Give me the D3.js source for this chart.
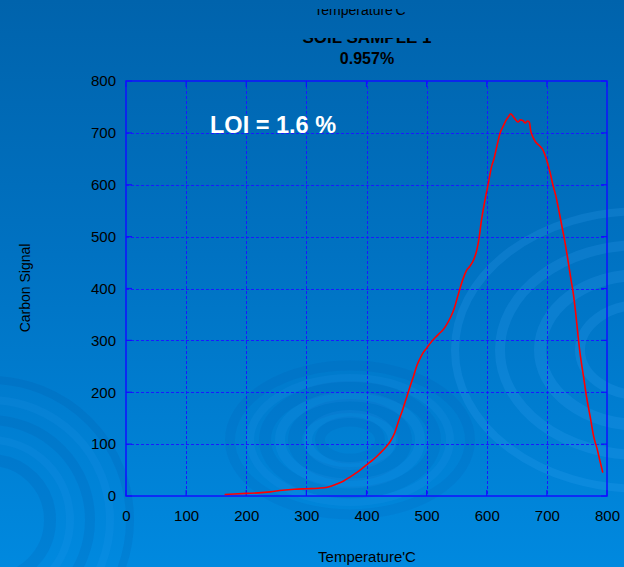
<!DOCTYPE html>
<html>
<head>
<meta charset="utf-8">
<script src="https://cdn.jsdelivr.net/npm/d3@7"></script>
<style>
  html, body { margin: 0; padding: 0; background: #0070c0; }
  svg { display: block; }
  text { font-family: "Liberation Sans", Arial, sans-serif; }
</style>
</head>
<body>
<svg id="chart" width="624" height="567"></svg>
<script>
// Carbon signal vs temperature (soil sample 1)
const temperature = [164,180,200,220,240,260,280,300,320,335,350,362,373,386,400,412,422,432,440,447,453,460,467,473,478,484,489,494,500,507,514,520,527,533,540,546,551,556,561,566,572,578,583,587,591,597,603,608,612,617,622,627,632,636,640,643,647,652,656,660,664,668,671,673,676,681,687,693,699,705,710,715,720,725,730,735,740,744,748,752,756,761,766,772,778,784,788,793];
const carbonSignal = [3,4,5,6,8,11,13,14,15,17,23,29,37,47,60,71,82,94,106,122,143,166,191,213,230,252,265,276,285,296,305,312,320,330,345,362,382,402,420,434,443,455,472,495,530,570,605,635,650,675,699,712,724,731,737,733,727,721,725,724,719,723,720,705,694,683,676,668,650,625,600,578,550,520,490,455,418,390,352,307,268,230,191,153,114,89,69,45];
const xTicks = [0,100,200,300,400,500,600,700,800];
const yTicks = [0,100,200,300,400,500,600,700,800];
const topAxisTitle = "Temperature'C";
const sampleTitle = "SOIL SAMPLE 1";
const resultTitle = "0.957%";
const loiLabel = "LOI = 1.6 %";
const xTitle = "Temperature'C";
const yTitle = "Carbon Signal";

const W = 624, H = 567;
const margin = {left: 126, right: 17, top: 81, bottom: 71};
const svg = d3.select("#chart");

// background gradient
const defs = svg.append("defs");
const bg = defs.append("linearGradient").attr("id", "bg").attr("x1", 0).attr("y1", 0).attr("x2", 0).attr("y2", 1);
bg.append("stop").attr("offset", "0%").attr("stop-color", "#0063ac");
bg.append("stop").attr("offset", "45%").attr("stop-color", "#0072c2");
bg.append("stop").attr("offset", "100%").attr("stop-color", "#0089df");
svg.append("rect").attr("width", W).attr("height", H).attr("fill", "url(#bg)");

// decorative swirls
const swirl = svg.append("g").attr("fill", "none");
function rings(cx, cy, radii, ratio, color, widths) {
  radii.forEach((r, i) => {
    swirl.append("ellipse")
      .attr("cx", cx).attr("cy", cy)
      .attr("rx", r).attr("ry", r * ratio)
      .attr("stroke", color).attr("stroke-width", widths[i % widths.length]);
  });
}
rings(350, 440, [30, 55, 85, 120], 0.62, "rgba(0,70,150,0.09)", [10, 14, 12, 10]);
rings(350, 440, [42, 70, 100], 0.62, "rgba(60,170,255,0.1)", [8, 10, 8]);
rings(640, 350, [60, 100, 140, 185], 0.75, "rgba(70,175,255,0.16)", [10, 12, 10, 8]);
rings(-10, 520, [60, 100, 140], 1.0, "rgba(0,60,140,0.1)", [12, 10, 8]);
rings(-10, 520, [80, 120], 1.0, "rgba(60,170,255,0.1)", [8, 8]);

const x = d3.scaleLinear().domain([0, 800]).range([margin.left, W - margin.right]);
const y = d3.scaleLinear().domain([0, 800]).range([H - margin.bottom, margin.top]);

// dotted grid
const grid = svg.append("g").attr("stroke", "#1a1aff").attr("stroke-width", 1).attr("stroke-dasharray", "3,2");
grid.selectAll(".gx").data(xTicks.slice(1, -1)).join("line")
  .attr("x1", d => Math.round(x(d)) + 0.5).attr("x2", d => Math.round(x(d)) + 0.5)
  .attr("y1", y(800)).attr("y2", y(0));
grid.selectAll(".gy").data(yTicks.slice(1, -1)).join("line")
  .attr("y1", d => Math.round(y(d)) + 0.5).attr("y2", d => Math.round(y(d)) + 0.5)
  .attr("x1", x(0)).attr("x2", x(800));

// axes
const xAxis = d3.axisBottom(x).tickValues(xTicks).tickSize(0).tickPadding(14);
const yAxis = d3.axisLeft(y).tickValues(yTicks).tickSize(0).tickPadding(10);
const gx = svg.append("g").attr("transform", `translate(0,${y(0)})`).call(xAxis);
const gy = svg.append("g").attr("transform", `translate(${x(0)},0)`).call(yAxis);
[gx, gy].forEach(g => {
  g.select(".domain").remove();
  g.selectAll("text").attr("fill", "#000").attr("font-size", 15)
    .attr("font-family", "'Liberation Sans', Arial, sans-serif");
});

// inward tick marks on all sides
const tk = svg.append("g").attr("stroke", "#1010ff").attr("stroke-width", 1.2);
xTicks.forEach(d => {
  tk.append("line").attr("x1", x(d)).attr("x2", x(d)).attr("y1", y(0)).attr("y2", y(0) - 6);
  tk.append("line").attr("x1", x(d)).attr("x2", x(d)).attr("y1", y(800)).attr("y2", y(800) + 6);
});
yTicks.forEach(d => {
  tk.append("line").attr("y1", y(d)).attr("y2", y(d)).attr("x1", x(0)).attr("x2", x(0) + 6);
  tk.append("line").attr("y1", y(d)).attr("y2", y(d)).attr("x1", x(800)).attr("x2", x(800) - 6);
});

// frame
svg.append("rect")
  .attr("x", x(0)).attr("y", y(800))
  .attr("width", x(800) - x(0)).attr("height", y(0) - y(800))
  .attr("fill", "none").attr("stroke", "#1010ff").attr("stroke-width", 1.5);

// carbon curve
const pts = temperature.map((t, i) => [t, carbonSignal[i]]);
svg.append("path")
  .datum(pts)
  .attr("fill", "none")
  .attr("stroke", "#ff0000")
  .attr("stroke-width", 1.6)
  .attr("stroke-linejoin", "round")
  .attr("d", d3.line().x(d => x(d[0])).y(d => y(d[1])).curve(d3.curveMonotoneX));

// LOI annotation
svg.append("text").attr("x", 210).attr("y", 133)
  .attr("fill", "#ffffff").attr("font-size", 23.5).attr("font-weight", "bold")
  .text(loiLabel);

// titles, upper ones partly hidden under the slide band
defs.append("clipPath").attr("id", "band1").append("rect").attr("x", 0).attr("y", 9).attr("width", W).attr("height", 20);
defs.append("clipPath").attr("id", "band2").append("rect").attr("x", 0).attr("y", 38).attr("width", W).attr("height", 10);
svg.append("text").attr("x", 360).attr("y", 15).attr("text-anchor", "middle")
  .attr("font-size", 14).attr("fill", "#000").attr("clip-path", "url(#band1)")
  .text(topAxisTitle);
svg.append("text").attr("x", 367).attr("y", 43).attr("text-anchor", "middle")
  .attr("font-size", 17).attr("font-weight", "bold").attr("fill", "#000").attr("clip-path", "url(#band2)")
  .text(sampleTitle);
svg.append("text").attr("x", 367).attr("y", 64).attr("text-anchor", "middle")
  .attr("font-size", 16).attr("font-weight", "bold").attr("fill", "#000")
  .text(resultTitle);

svg.append("text").attr("x", 367).attr("y", 562).attr("text-anchor", "middle")
  .attr("font-size", 15).attr("fill", "#000").text(xTitle);
svg.append("text").attr("transform", "translate(30,288) rotate(-90)").attr("text-anchor", "middle")
  .attr("font-size", 14).attr("fill", "#000").text(yTitle);
</script>
</body>
</html>
